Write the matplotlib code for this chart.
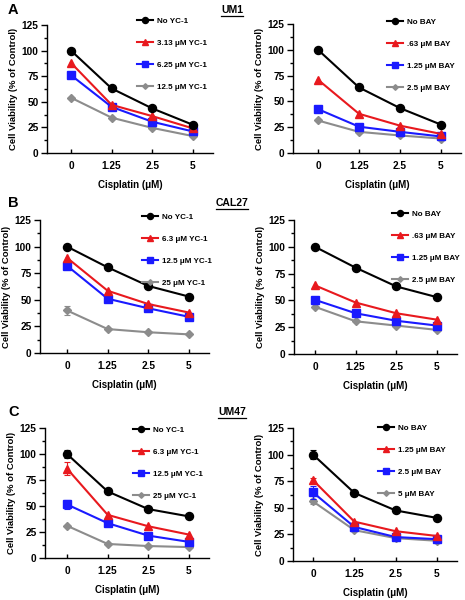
import numpy as np
import matplotlib
matplotlib.use('Agg')
from matplotlib import pyplot as plt
from matplotlib.lines import Line2D

plt.rcParams['font.family'] = ['Liberation Sans', 'DejaVu Sans']
plt.rcParams['font.weight'] = 'bold'

# data ------------------------------------------------------------------
cisplatin = ['0', '1.25', '2.5', '5']

um1_yc_labels = ['No YC-1', '3.13 \u03bcM YC-1', '6.25 \u03bcM YC-1', '12.5 \u03bcM YC-1']
um1_yc = [[100, 63, 43.5, 27.5], [88, 47, 36, 24], [76, 45, 30.5, 21], [54, 34.5, 24.5, 16.5]]
um1_yc_err = [[0, 0, 0, 0], [0, 0, 0, 0], [0, 0, 0, 0], [0, 0, 0, 0]]

um1_bay_labels = ['No BAY', '.63 \u03bcM BAY', '1.25 \u03bcM BAY', '2.5 \u03bcM BAY']
um1_bay = [[100, 63.5, 43.5, 27.5], [71, 38, 26.5, 18.5], [42.5, 25.5, 20.5, 16], [31.5, 20.5, 17, 14]]
um1_bay_err = [[0, 0, 0, 0], [0, 0, 0, 0], [0, 0, 0, 0], [0, 0, 0, 0]]

cal_yc_labels = ['No YC-1', '6.3 \u03bcM YC-1', '12.5 \u03bcM YC-1', '25 \u03bcM YC-1']
cal_yc = [[100, 80.5, 63, 53], [89.5, 58.5, 46, 38], [82, 51, 42, 34], [40, 22.5, 19.5, 17.5]]
cal_yc_err = [[0, 0, 0, 0], [0, 0, 0, 0], [0, 0, 0, 0], [4, 0, 0, 0]]

cal_bay_labels = ['No BAY', '.63 \u03bcM BAY', '1.25 \u03bcM BAY', '2.5 \u03bcM BAY']
cal_bay = [[100, 80.5, 63, 53], [64, 48, 38, 32], [50.5, 38, 31, 26.5], [44, 30.5, 26.5, 22.5]]
cal_bay_err = [[0, 0, 0, 0], [0, 0, 0, 0], [0, 0, 0, 0], [0, 0, 0, 0]]

um47_yc_labels = ['No YC-1', '6.3 \u03bcM YC-1', '12.5 \u03bcM YC-1', '25 \u03bcM YC-1']
um47_yc = [[100, 64, 47, 40], [86, 41.5, 30.5, 22.5], [51.5, 33.5, 21.5, 15.5], [31, 13.5, 11.5, 10.5]]
um47_yc_err = [[4, 0, 0, 0], [6, 0, 0, 0], [4, 0, 0, 0], [0, 0, 0, 0]]

um47_bay_labels = ['No BAY', '1.25 \u03bcM BAY', '2.5 \u03bcM BAY', '5 \u03bcM BAY']
um47_bay = [[100, 64, 47.5, 40.5], [76, 37, 28, 23.5], [64.5, 32, 22.5, 20.5], [56, 29, 21.5, 19]]
um47_bay_err = [[4, 0, 0, 0], [2, 0, 0, 0], [6, 0, 0, 0], [2, 0, 0, 0]]

# styles ----------------------------------------------------------------
colors = ['black', '#e8191e', '#1a1aff', '#8c8c8c']
markers = ['o', '^', 's', 'D']
msizes = [5.8, 5.8, 5.8, 3.8]

W, H = 465, 600
fig = plt.figure(figsize=(W / 100, H / 100), dpi=100)


def panel(box, x0, x3, leg_xy, values, errs, labels):
    l, t, r, b = box
    ax = fig.add_axes([l / W, 1 - b / H, (r - l) / W, (b - t) / H])
    u = (x3 - x0) / 3.0
    x = np.arange(len(cisplatin))
    for i in range(4):
        e = np.array(errs[i], dtype=float)
        if e.any():
            ax.errorbar(x, values[i], yerr=np.where(e > 0, e, np.nan), color=colors[i], fmt='none',
                        elinewidth=0.8, capsize=2, capthick=0.8, zorder=5 - i)
        ax.plot(x, values[i], color=colors[i], marker=markers[i], ms=msizes[i], lw=1.5,
                label=labels[i], zorder=5 - i)
    ax.set_xlim((l - x0) / u, (r - x0) / u)
    ax.set_ylim(0, 125)
    ax.set_xticks(x)
    ax.set_xticklabels(cisplatin)
    ax.set_yticks([0, 25, 50, 75, 100, 125])
    ax.set_yticks(np.arange(12.5, 125, 25), minor=True)
    ax.spines['top'].set_visible(False)
    ax.spines['right'].set_visible(False)
    ax.spines['left'].set_linewidth(1.0)
    ax.spines['bottom'].set_linewidth(1.0)
    ax.tick_params(axis='y', which='major', direction='out', length=4, width=1, labelsize=7.3, pad=2)
    ax.tick_params(axis='y', which='minor', direction='out', length=2.5, width=1)
    ax.tick_params(axis='x', direction='in', length=3, width=1, labelsize=7.3, pad=6)
    for lab in ax.get_xticklabels() + ax.get_yticklabels():
        lab.set_fontweight('bold')
    ax.set_xlabel('Cisplatin (\u03bcM)', fontsize=7, fontweight='bold', labelpad=6)
    ax.set_ylabel('Cell Viability (% of Control)', fontsize=6.8, fontweight='bold', labelpad=3)
    ax.legend(loc='upper left', bbox_to_anchor=(leg_xy[0] / W, 1 - leg_xy[1] / H),
              bbox_transform=fig.transFigure, frameon=False,
              handlelength=2.0, handletextpad=0.5, labelspacing=1.8,
              borderpad=0, borderaxespad=0, markerscale=0.75,
              prop={'weight': 'bold', 'size': 5.8})
    return ax


panel((47, 25, 213, 153), 71, 193, (137, 17), um1_yc, um1_yc_err, um1_yc_labels)
panel((293, 24, 461, 153), 318, 441, (387, 18), um1_bay, um1_bay_err, um1_bay_labels)
panel((40, 220, 209, 353), 67, 189, (142, 213), cal_yc, cal_yc_err, cal_yc_labels)
panel((294, 220, 457, 354), 315, 437, (392, 210), cal_bay, cal_bay_err, cal_bay_labels)
panel((45, 428, 209, 558), 67, 189, (133, 426), um47_yc, um47_yc_err, um47_yc_labels)
panel((293, 428, 457, 561), 313, 437, (378, 424), um47_bay, um47_bay_err, um47_bay_labels)

# panel letters and cell line titles
for letter, ypx in [('A', 10), ('B', 203), ('C', 412)]:
    fig.text(8 / W, 1 - ypx / H, letter, fontsize=10.5, fontweight='bold', ha='left', va='center')

titles = []
for name, ypx in [('UM1', 10), ('CAL27', 203), ('UM47', 412)]:
    titles.append(fig.text(232 / W, 1 - ypx / H, name, fontsize=7.5, fontweight='bold',
                           ha='center', va='center'))

fig.canvas.draw()
rend = fig.canvas.get_renderer()
for tt in titles:
    bb = tt.get_window_extent(rend).transformed(fig.transFigure.inverted())
    fig.add_artist(Line2D([bb.x0, bb.x1], [bb.y0 - 0.001, bb.y0 - 0.001],
                          transform=fig.transFigure, color='black', lw=0.9))

fig.savefig('out.png', dpi=100)
